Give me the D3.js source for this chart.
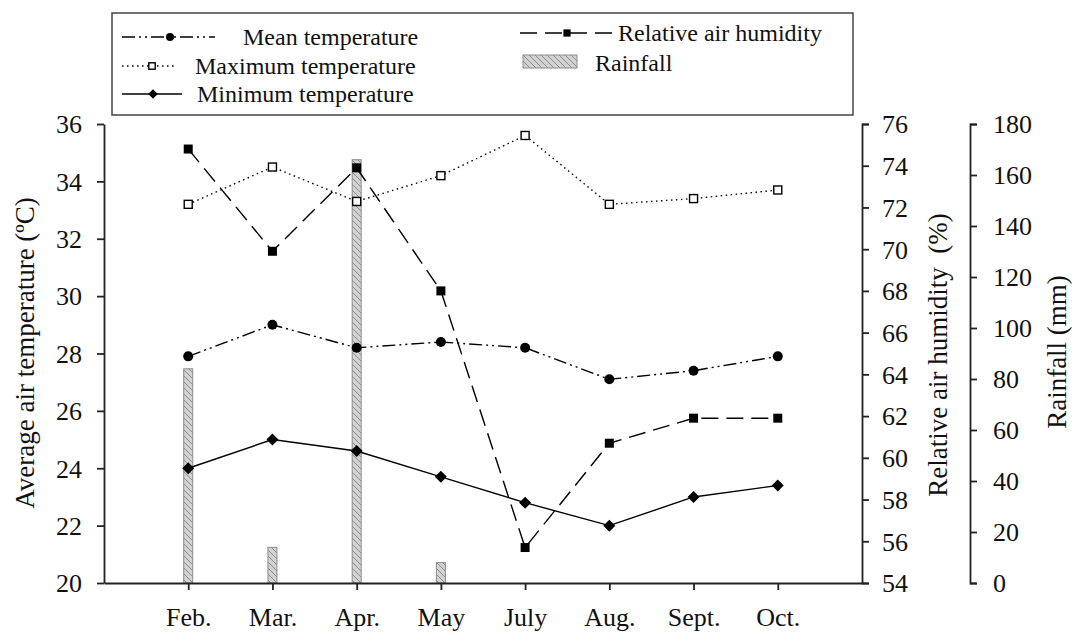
<!DOCTYPE html>
<html>
<head>
<meta charset="utf-8">
<script src="https://cdn.jsdelivr.net/npm/d3@7"></script>
<style>
  body { margin: 0; background: #fff; }
  svg, svg text, .axis text { font-family: 'Liberation Serif', 'Times New Roman', Times, 'Nimbus Roman', 'DejaVu Serif', serif !important; fill: #111; }
  .axis path, .axis line { stroke: #222; stroke-width: 1.8; }
  .axis text { font-size: 26px; }
</style>
</head>
<body>
<div id="chart"></div>
<script>

// data
var months = ['Feb.', 'Mar.', 'Apr.', 'May', 'July', 'Aug.', 'Sept.', 'Oct.'];
var meanTemp = [27.9, 29.0, 28.2, 28.4, 28.2, 27.1, 27.4, 27.9];
var maxTemp = [33.2, 34.5, 33.3, 34.2, 35.6, 33.2, 33.4, 33.7];
var minTemp = [24.0, 25.0, 24.6, 23.7, 22.8, 22.0, 23.0, 23.4];
var humidity = [74.8, 69.9, 73.9, 68.0, 55.7, 60.7, 61.9, 61.9];
var rainfall = [84, 14, 166, 8, 0, 0, 0, 0];

var tempTicks = [20, 22, 24, 26, 28, 30, 32, 34, 36];
var humTicks = [54, 56, 58, 60, 62, 64, 66, 68, 70, 72, 74, 76];
var rainTicks = [0, 20, 40, 60, 80, 100, 120, 140, 160, 180];

var serif = "'Liberation Serif', 'Times New Roman', Times, 'Nimbus Roman', 'DejaVu Serif', serif";

// svg container
var width = 1074, height = 634;
var plot = { left: 104, right: 862, top: 124, bottom: 583 };
var rainAxisX = 970;

var svg = d3.select('#chart').append('svg')
    .attr('width', width)
    .attr('height', height)
    .attr('font-family', serif);

// hatch for rainfall bars
var defs = svg.append('defs');
var pat = defs.append('pattern')
    .attr('id', 'hatch')
    .attr('patternUnits', 'userSpaceOnUse')
    .attr('width', 6)
    .attr('height', 6);
pat.append('rect').attr('width', 6).attr('height', 6).attr('fill', '#d2d2d2');
pat.append('path').attr('d', 'M-1,-1 L7,7 M5,-1 L7,1 M-1,5 L1,7')
    .attr('stroke', '#7a7a7a').attr('stroke-width', 0.8);

// scales
var xScale = d3.scalePoint()
    .domain(months)
    .range([plot.left, plot.right])
    .padding(1);

var yTemp = d3.scaleLinear().domain([20, 36]).range([plot.bottom, plot.top]);
var yHum = d3.scaleLinear().domain([54, 76]).range([plot.bottom, plot.top]);
var yRain = d3.scaleLinear().domain([0, 180]).range([plot.bottom, plot.top]);

// rainfall bars (months with no rain get no bar)
var barW = 9;
var rainData = months.map((m, i) => ({ month: m, value: rainfall[i] }))
    .filter(d => d.value > 0);

svg.append('g').selectAll('rect')
    .data(rainData)
    .enter()
    .append('rect')
    .attr('x', d => xScale(d.month) - barW / 2)
    .attr('width', barW)
    .attr('y', d => yRain(d.value))
    .attr('height', d => plot.bottom - yRain(d.value))
    .attr('fill', 'url(#hatch)')
    .attr('stroke', '#8c8c8c')
    .attr('stroke-width', 1);

// axes
function serifText(g) {
    g.attr('font-family', serif).attr('font-size', 26);
    g.selectAll('text').style('font-family', serif).style('font-size', '26px');
}

svg.append('g')
    .attr('class', 'axis')
    .attr('transform', `translate(${plot.left},0)`)
    .call(d3.axisLeft(yTemp).tickValues(tempTicks).tickSize(7).tickSizeOuter(0).tickPadding(15))
    .call(serifText)
    .call(g => g.selectAll('text').attr('dy', '0.34em'));

svg.append('g')
    .attr('class', 'axis')
    .attr('transform', `translate(0,${plot.bottom})`)
    .call(d3.axisBottom(xScale).tickSize(7).tickSizeOuter(0).tickPadding(18))
    .call(serifText);

svg.append('g')
    .attr('class', 'axis')
    .attr('transform', `translate(${plot.right},0)`)
    .call(d3.axisRight(yHum).tickValues(humTicks).tickSize(7).tickSizeOuter(7).tickPadding(13))
    .call(serifText)
    .call(g => g.selectAll('text').attr('dy', '0.34em'));

svg.append('g')
    .attr('class', 'axis')
    .attr('transform', `translate(${rainAxisX},0)`)
    .call(d3.axisRight(yRain).tickValues(rainTicks).tickSize(7).tickSizeOuter(7).tickPadding(16))
    .call(serifText)
    .call(g => g.selectAll('text').attr('dy', '0.34em'));

// axis titles
function title(tx, ty, label) {
    svg.append('text')
        .attr('transform', `translate(${tx},${ty}) rotate(-90)`)
        .style('text-anchor', 'middle')
        .style('font-family', serif)
        .style('font-size', '27px')
        .style('white-space', 'pre')
        .text(label);
}
title(34, 353, 'Average air temperature (ºC)');
title(947, 355, 'Relative air humidity  (%)');
title(1066, 352, 'Rainfall (mm)');

// line series
var series = [
    { values: maxTemp, y: yTemp, dash: '1.5,3.5', marker: 'openSquare' },
    { values: meanTemp, y: yTemp, dash: '13,4,2,4,2,4', marker: 'circle' },
    { values: minTemp, y: yTemp, dash: null, marker: 'diamond' },
    { values: humidity, y: yHum, dash: '17,8', marker: 'square' }
];

function drawMarker(g, type, scale) {
    var s = scale || 1;
    if (type === 'circle') {
        g.append('circle').attr('r', 5 * s).attr('fill', '#000');
    } else if (type === 'openSquare') {
        g.append('rect').attr('x', -4 * s).attr('y', -4 * s)
            .attr('width', 8 * s).attr('height', 8 * s)
            .attr('fill', '#fff').attr('stroke', '#000').attr('stroke-width', 1.4);
    } else if (type === 'square') {
        g.append('rect').attr('x', -4.5 * s).attr('y', -4.5 * s)
            .attr('width', 9 * s).attr('height', 9 * s).attr('fill', '#000');
    } else if (type === 'diamond') {
        var r = 6 * s;
        g.append('path').attr('d', `M0,${-r} L${r},0 L0,${r} L${-r},0 Z`).attr('fill', '#000');
    }
}

series.forEach(function (sr) {
    var line = d3.line()
        .x((d, i) => xScale(months[i]))
        .y(d => sr.y(d));

    svg.append('path')
        .datum(sr.values)
        .attr('d', line)
        .attr('fill', 'none')
        .attr('stroke', '#000')
        .attr('stroke-width', 1.4)
        .attr('stroke-dasharray', sr.dash);

    svg.append('g').selectAll('g')
        .data(sr.values)
        .enter()
        .append('g')
        .attr('transform', (d, i) => `translate(${xScale(months[i])},${sr.y(d)})`)
        .each(function () { drawMarker(d3.select(this), sr.marker); });
});

// legend box
svg.append('rect')
    .attr('x', 112).attr('y', 13)
    .attr('width', 741).attr('height', 102)
    .attr('fill', 'none')
    .attr('stroke', '#444')
    .attr('stroke-width', 1.5);

var legendItems = [
    { label: 'Mean temperature', dash: '13,4,2,4,2,4', marker: 'circle', x1: 122, x2: 215, mx: 170, tx: 243, y: 37 },
    { label: 'Maximum temperature', dash: '1.5,3.5', marker: 'openSquare', x1: 122, x2: 177, mx: 152, tx: 195, y: 66 },
    { label: 'Minimum temperature', dash: null, marker: 'diamond', x1: 122, x2: 182, mx: 153, tx: 197, y: 94 },
    { label: 'Relative air humidity', dash: '17,8', marker: 'square', x1: 520, x2: 613, mx: 567, tx: 618, y: 33 }
];

legendItems.forEach(function (it) {
    svg.append('line')
        .attr('x1', it.x1).attr('x2', it.x2)
        .attr('y1', it.y).attr('y2', it.y)
        .attr('stroke', '#000').attr('stroke-width', 1.4)
        .attr('stroke-dasharray', it.dash);
    var g = svg.append('g').attr('transform', `translate(${it.mx},${it.y})`);
    drawMarker(g, it.marker, 0.8);
    svg.append('text')
        .attr('x', it.tx).attr('y', it.y)
        .attr('dy', '0.33em')
        .style('font-family', serif)
        .style('font-size', '24px')
        .text(it.label);
});

// rainfall legend swatch
svg.append('rect')
    .attr('x', 523).attr('y', 55)
    .attr('width', 54).attr('height', 13)
    .attr('fill', 'url(#hatch)')
    .attr('stroke', '#8c8c8c');
svg.append('text')
    .attr('x', 595).attr('y', 63)
    .attr('dy', '0.33em')
    .style('font-family', serif)
    .style('font-size', '24px')
    .text('Rainfall');

</script>
</body>
</html>
